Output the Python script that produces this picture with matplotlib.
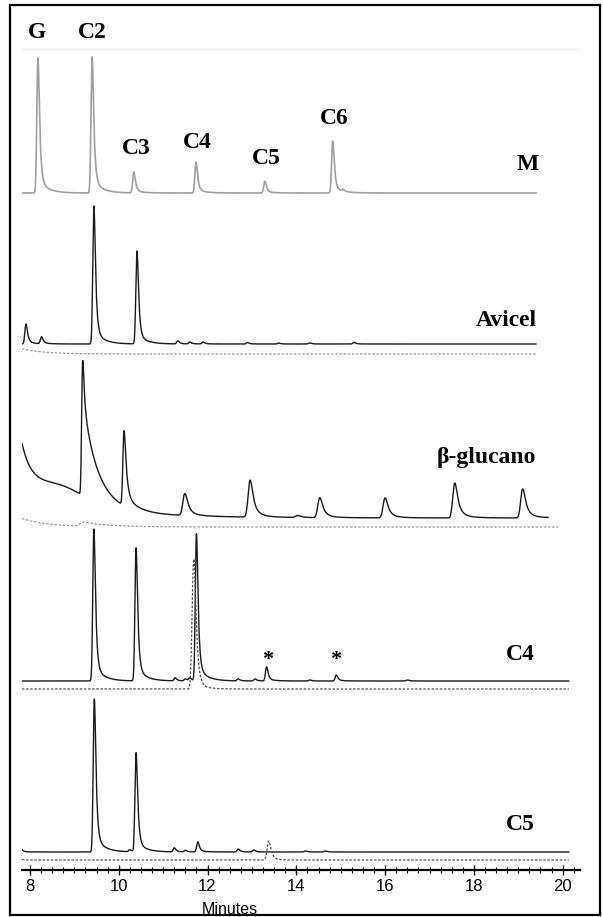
import math
import numpy as np
import matplotlib
matplotlib.use('Agg')
import matplotlib.pyplot as plt
from matplotlib.patches import Rectangle
from matplotlib.ticker import MultipleLocator

# retention times (min) and peak heights (detector units) for each run
m_rt = [8.18, 9.40, 10.34, 11.74, 13.29, 14.82, 15.05]
m_h = [135, 136, 21, 31, 12, 52, 2]

avicel_rt = [7.91, 8.26, 9.44, 10.41, 11.33, 11.60, 11.90, 12.90, 13.60, 14.30, 15.30]
avicel_h = [20, 7, 138, 93, 3, 2, 2, 1.5, 1, 1, 1.5]
avicel_blank_rt = [7.70]
avicel_blank_h = [6]

# beta-glucan run: solvent front, hump, tailing DP2 peak, then oligomers
bg_rt = [7.75, 8.55, 9.19, 9.19, 9.19, 10.12, 10.12]
bg_h = [70, 32, 38, 86, 11, 64, 11]
bg_sigma = [0.02, 0.75, 0.015, 0.015, 0.015, 0.02, 0.02]
bg_tau = [0.25, 0.0, 0.03, 0.27, 1.5, 0.05, 0.3]
bg_olig_rt = [11.49, 12.96, 14.03, 14.53, 16.00, 17.57, 19.10]
bg_olig_h = [22, 37, 2, 20, 20, 35, 29]
bg_blank_rt = [7.70, 9.20]
bg_blank_h = [10, 4]

c4_rt = [9.44, 10.39, 11.75, 11.27, 11.50, 11.60, 12.69, 13.07, 13.33, 14.30, 14.90, 16.50]
c4_h = [152, 133, 147, 3, 2, 3, 2, 2, 14, 1, 6, 1]
c4_std_rt = [11.69]
c4_std_h = [130]

c5_rt = [7.80, 9.45, 10.25, 10.39, 11.25, 11.50, 11.78, 12.69, 13.04, 14.20, 14.65]
c5_h = [3, 153, 2, 99, 4, 1.5, 10, 3, 2, 1, 1]
c5_std_rt = [7.70, 13.38]
c5_std_h = [3, 19]

_erfc = np.vectorize(math.erfc)


def emg(x, s, tau):
    if tau < 0.2 * s:
        return np.exp(-0.5 * (x / s) ** 2)
    z = (s / tau - x / s) / np.sqrt(2)
    e = np.minimum(0.5 * (s / tau) ** 2 - x / tau, 700)
    return np.exp(e) * _erfc(z)


def peak(t, rt, h, s, tau):
    # unit-height EMG shifted so its apex sits at rt
    u = np.linspace(-6 * s, 6 * s + 4 * tau, 2001)
    ref = emg(u, s, tau)
    k = np.argmax(ref)
    return h * emg(t - rt + u[k], s, tau) / ref[k]


def chrom(t, rt, h, s=0.02, tau=0.035, tail=0.1, tail_tau=0.2):
    y = np.zeros_like(t)
    for r, a in zip(rt, h):
        y += peak(t, r, a * (1 - tail), s, tau)
        if tail > 0:
            y += peak(t, r, a * tail, s, tail_tau)
    return y


t0 = 7.82
fig = plt.figure(figsize=(6.03, 9.17), dpi=100)
ax = fig.add_axes([22 / 603, 47 / 917, 558 / 603, 865 / 917])
ax.set_xlim(7.82, 20.39)
ax.set_ylim(0, 865)

black = '#1a1a1a'
grey = '#a0a0a0'

# faint top rule
ax.axhline(821, color='#ededed', lw=1)

# M: standards
t = np.arange(t0, 19.40, 0.002)
ax.plot(t, 677 + chrom(t, m_rt, m_h), color=grey, lw=1.2)

# Avicel
t = np.arange(t0, 19.40, 0.002)
ax.plot(t, 526 + chrom(t, avicel_rt, avicel_h), color=black, lw=1.0)
ax.plot(t, 516 + chrom(t, avicel_blank_rt, avicel_blank_h, s=0.1, tau=0.5, tail=0),
        color='#9a9a9a', lw=0.9, ls=(0, (2, 1.3)))

# beta-glucan
t = np.arange(t0, 19.67, 0.002)
y = np.zeros_like(t)
for r, a, s, tau in zip(bg_rt, bg_h, bg_sigma, bg_tau):
    y += peak(t, r, a, s, tau)
y += chrom(t, bg_olig_rt, bg_olig_h, s=0.035, tau=0.07, tail=0.15, tail_tau=0.25)
ax.plot(t, 352 + y, color=black, lw=1.0)
t = np.arange(t0, 19.90, 0.002)
ax.plot(t, 343 + chrom(t, bg_blank_rt, bg_blank_h, s=0.04, tau=0.6, tail=0),
        color='#9a9a9a', lw=0.9, ls=(0, (2, 1.3)))

# C4
t = np.arange(t0, 20.14, 0.002)
ax.plot(t, 189 + chrom(t, c4_rt, c4_h), color=black, lw=1.0)
ax.plot(t, 181 + chrom(t, c4_std_rt, c4_std_h, s=0.03, tau=0.05, tail=0.05),
        color='#555555', lw=0.9, ls=(0, (2, 1.3)))

# C5
ax.plot(t, 18 + chrom(t, c5_rt, c5_h), color=black, lw=1.0)
ax.plot(t, 10 + chrom(t, c5_std_rt, c5_std_h, s=0.03, tau=0.05, tail=0.05),
        color='#555555', lw=0.9, ls=(0, (2, 1.3)))

lab = dict(family='Liberation Serif', weight='bold', size=17, ha='center', va='center')
for x, yy, s in [(8.16, 838, 'G'), (9.40, 838, 'C2'), (10.39, 722, 'C3'),
                 (11.76, 727, 'C4'), (13.32, 712, 'C5'), (14.85, 752, 'C6'),
                 (19.22, 705, 'M'), (18.72, 550, 'Avicel'), (18.27, 413, 'β-glucano'),
                 (19.04, 215, 'C4'), (19.04, 45, 'C5')]:
    ax.text(x, yy, s, **lab)
for x in (13.36, 14.89):
    ax.text(x, 210, '*', family='Liberation Serif', weight='bold', size=16,
            ha='center', va='center')

for side in ('left', 'right', 'top'):
    ax.spines[side].set_visible(False)
ax.spines['bottom'].set_linewidth(1.6)
ax.set_yticks([])
ax.xaxis.set_major_locator(MultipleLocator(2))
ax.xaxis.set_minor_locator(MultipleLocator(0.25))
ax.tick_params(axis='x', which='major', direction='inout', length=7, width=1, pad=3,
               labelsize=12)
ax.tick_params(axis='x', which='minor', direction='inout', length=5, width=0.8)
for lb in ax.get_xticklabels():
    lb.set_family('Liberation Sans')

fig.text(230 / 603, 1 - 909 / 917, 'Minutes', family='Liberation Sans', size=11.5,
         ha='center', va='center')

fig.patches.append(Rectangle((10 / 603, 2 / 917), 590 / 603, 910 / 917,
                             transform=fig.transFigure, fill=False, lw=1.6,
                             edgecolor='black'))

fig.savefig('out.png', dpi=100)
